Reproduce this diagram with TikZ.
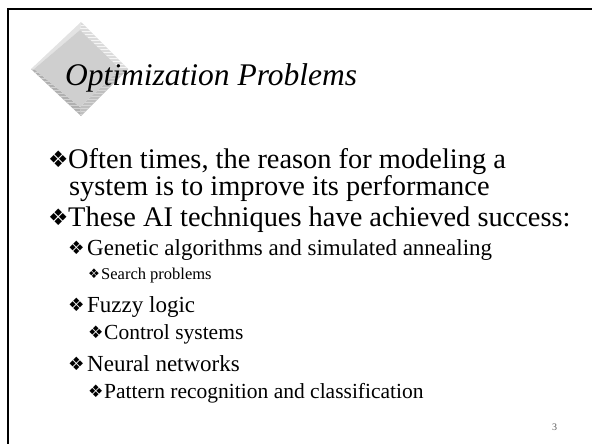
\documentclass[tikz,border=0pt]{standalone}
\usepackage{fontspec}
\setmainfont{Liberation Serif}
\newfontfamily\dingfont{DejaVu Sans}
\newcommand\bulmark[1]{\makebox[#1][l]{\raisebox{0.02em}{\scalebox{0.8}{\dingfont ❖}}}}
\begin{document}
\begin{tikzpicture}[x=1pt,y=-1pt,
  framestroke/.style={line width=2.6pt, black},
  lvlone/.style={anchor=base west, inner sep=0pt, font=\fontsize{28.4}{31}\selectfont},
  lvltwo/.style={anchor=base west, inner sep=0pt, font=\fontsize{23}{27}\selectfont},
  lvlthree/.style={anchor=base west, inner sep=0pt, font=\fontsize{21.5}{25}\selectfont},
  lvlsmall/.style={anchor=base west, inner sep=0pt, font=\fontsize{16.5}{20}\selectfont},
  titletext/.style={anchor=base west, inner sep=0pt, font=\fontsize{31.5}{36}\selectfont\itshape},
  stripe/.style={line width=0.8pt}]
\useasboundingbox (0,0) rectangle (592,444);

% slide frame (top and left rules)
\coordinate (fTL) at (8,9);
\coordinate (fTR) at (592,9);
\coordinate (fBL) at (8,444);
\draw[framestroke] (fTR) -- (fTL) -- (fBL);

% bevelled diamond emblem
\coordinate (T) at (81,22);  \coordinate (R) at (128,69);
\coordinate (B) at (81,116); \coordinate (L) at (31,69);
\coordinate (t) at (80,30);  \coordinate (r) at (120,69);
\coordinate (b) at (80,107); \coordinate (l) at (34,69);
% upper-right bevel, light with pale stripes
\fill[gray!28] (T) -- (R) -- (r) -- (t) -- cycle;
\begin{scope}
  \clip (T) -- (R) -- (r) -- (t) -- cycle;
  \foreach \yy in {22,25,...,70} \draw[stripe, gray!8] (30,\yy) -- (130,\yy);
\end{scope}
% lower-right bevel
\fill[gray!50] (R) -- (B) -- (b) -- (r) -- cycle;
\begin{scope}
  \clip (R) -- (B) -- (b) -- (r) -- cycle;
  \foreach \yy in {69,72,...,117} \draw[stripe, gray!32] (30,\yy) -- (130,\yy);
\end{scope}
% lower-left bevel, darker with grey stripes
\fill[gray!62] (B) -- (L) -- (l) -- (b) -- cycle;
\begin{scope}
  \clip (B) -- (L) -- (l) -- (b) -- cycle;
  \foreach \yy in {69,72,...,117} \draw[stripe, gray!35] (30,\yy) -- (130,\yy);
\end{scope}
% upper-left bevel
\fill[gray!22] (L) -- (T) -- (t) -- (l) -- cycle;
% face
\fill[gray!38] (t) -- (r) -- (b) -- (l) -- cycle;

% title
\node[titletext] (title) at (65,85) {Optimization Problems};

% bullet list
\node[lvlone] (p1) at (48,168) {\bulmark{20pt}Often times, the reason for modeling a};
\node[lvlone] (p1b) at (69,195) {system is to improve its performance};
\node[lvlone] (p2) at (48,226) {\bulmark{20pt}These AI techniques have achieved success:};
\node[lvltwo] (ga) at (68,255) {\bulmark{19pt}Genetic algorithms and simulated annealing};
\node[lvlsmall] (sp) at (88,279) {\bulmark{13pt}Search problems};
\node[lvltwo] (fl) at (68,312) {\bulmark{19pt}Fuzzy logic};
\node[lvlthree] (cs) at (88,339) {\bulmark{16pt}Control systems};
\node[lvltwo] (nn) at (68,371) {\bulmark{19pt}Neural networks};
\node[lvlthree] (pr) at (88,398) {\bulmark{16pt}Pattern recognition and classification};

% page number
\node[anchor=base west, inner sep=0pt, font=\fontsize{10}{12}\selectfont, gray!70!black] (pg) at (552,430) {3};
\end{tikzpicture}
\end{document}
